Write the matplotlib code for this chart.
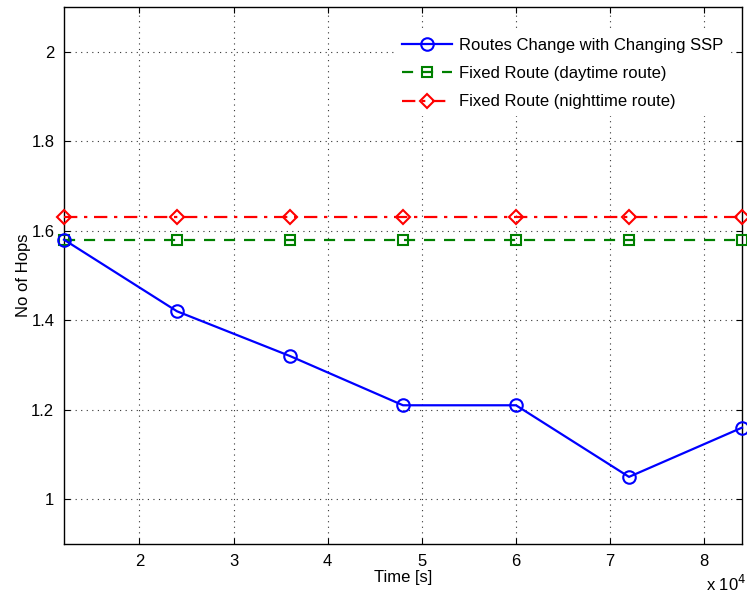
import numpy as np
import matplotlib as mpl
import matplotlib.pyplot as plt
from matplotlib.ticker import FuncFormatter

custom_rcparams = {
    "font.family": ["Liberation Sans", "DejaVu Sans"],
    "font.size": 12,
    "xtick.direction": "in",
    "ytick.direction": "in",
    "xtick.top": True,
    "ytick.right": True,
    "xtick.major.size": 4,
    "ytick.major.size": 4,
    "axes.linewidth": 1.0,
}
mpl.rcParams.update(custom_rcparams)

# time in seconds
time_s = [12000, 24000, 36000, 48000, 60000, 72000, 84000]
hops_changing = [1.58, 1.42, 1.32, 1.21, 1.21, 1.05, 1.16]
hops_day = [1.58, 1.58, 1.58, 1.58, 1.58, 1.58, 1.58]
hops_night = [1.63, 1.63, 1.63, 1.63, 1.63, 1.63, 1.63]

xticks = [20000, 30000, 40000, 50000, 60000, 70000, 80000]
yticks = [1.0, 1.2, 1.4, 1.6, 1.8, 2.0]

fig = plt.figure(figsize=(7.47, 5.98), dpi=100)
ax = fig.add_axes([0.0857, 0.0903, 0.9076, 0.898])

ax.plot(time_s, hops_changing, "-o", color="#0000ff", lw=1.6, ms=9,
        mfc="none", mew=1.5, label="Routes Change with Changing SSP", clip_on=False, zorder=5)
ax.plot(time_s, hops_day, "--s", color="#008000", lw=1.6, ms=6.5,
        mfc="none", mew=1.5, dashes=(5, 4), label="Fixed Route (daytime route)", clip_on=False, zorder=4)
ax.plot(time_s, hops_night, "-.D", color="#ff0000", lw=1.6, ms=7.5,
        mfc="none", mew=1.5, dashes=(6, 3, 1.5, 3), label="Fixed Route (nighttime route)", clip_on=False, zorder=4)

ax.set_xlim(12000, 84000)
ax.set_ylim(0.9, 2.1)
ax.set_xticks(xticks)
ax.set_yticks(yticks)
ax.xaxis.set_major_formatter(FuncFormatter(lambda v, p: f"{v / 1e4:g}"))
ax.yaxis.set_major_formatter(FuncFormatter(lambda v, p: f"{v:g}"))
ax.tick_params(labelsize=12, pad=7)
ax.grid(True, linestyle=(0, (1, 4)), color="#333333", linewidth=0.8)

ax.set_xlabel("Time [s]", fontsize=12, labelpad=1)
ax.set_ylabel("No of Hops", fontsize=12, labelpad=0)
ax.text(1.007, -0.055, r"x 10$^4$", transform=ax.transAxes, ha="right", va="top", fontsize=12)

leg = ax.legend(loc="upper right", bbox_to_anchor=(0.982, 0.955), frameon=True, fancybox=False,
                edgecolor="none", facecolor="white", framealpha=1.0, fontsize=12,
                handlelength=3.0, handletextpad=0.4, labelspacing=0.8, borderaxespad=0.0)

fig.savefig("out.png", dpi=100)
